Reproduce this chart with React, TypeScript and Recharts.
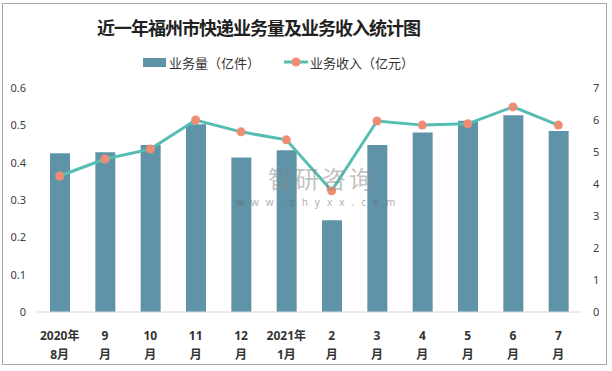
import { ComposedChart, Bar, Line, XAxis, YAxis, Legend } from "recharts"

const months = ["2020年\n8月", "9\n月", "10\n月", "11\n月", "12\n月", "2021年\n1月", "2\n月", "3\n月", "4\n月", "5\n月", "6\n月", "7\n月"]
const volume = [0.425, 0.428, 0.447, 0.503, 0.414, 0.433, 0.246, 0.447, 0.481, 0.512, 0.527, 0.485]
const revenue = [4.25, 4.78, 5.09, 6.0, 5.63, 5.38, 3.79, 5.97, 5.84, 5.88, 6.41, 5.84]
const leftTicks = [0, 0.1, 0.2, 0.3, 0.4, 0.5, 0.6]
const rightTicks = [0, 1, 2, 3, 4, 5, 6, 7]

const data = months.map((m, i) => ({ month: m, volume: volume[i], revenue: revenue[i] }))

const BAR = "#5f93a8"
const LINE = "#55bdb1"
const DOT = "#ef8d74"
const FONT = '"Noto Sans", "Noto Sans CJK SC", sans-serif'

function MonthTick(props: any) {
  const { x, y, payload } = props
  const lines = String(payload.value).split("\n")
  return (
    <g transform={`translate(${x},${y})`}>
      {lines.map((t, i) => (
        <text key={i} x={0} y={i * 19 + 20} textAnchor="middle" fontSize={12} fontWeight="bold" fill="#333" fontFamily={FONT}>
          {t}
        </text>
      ))}
    </g>
  )
}

function LegendBox() {
  return (
    <div style={{ display: "flex", alignItems: "center", paddingLeft: 143, height: 20, fontSize: 13, color: "#333", fontFamily: FONT }}>
      <span style={{ display: "inline-block", width: 23, height: 9, background: BAR, marginRight: 3 }} />
      <span>业务量（亿件）</span>
      <svg width={24} height={12} style={{ marginLeft: 24, marginRight: 2 }}>
        <line x1={0} y1={6} x2={24} y2={6} stroke={LINE} strokeWidth={3} />
        <circle cx={12} cy={6} r={4.5} fill={DOT} />
      </svg>
      <span>业务收入（亿元）</span>
    </div>
  )
}

export default function App() {
  return (
    <div style={{ position: "absolute", left: 0, top: 0, width: 612, height: 371, background: "#fff" }}>
      <div style={{ position: "absolute", left: 2, top: 3, width: 603, height: 360, border: "1.5px solid #a6a6a6" }} />
      <div style={{ position: "absolute", left: 97, top: 14, lineHeight: "26px", whiteSpace: "nowrap", fontSize: 18, letterSpacing: -1, fontWeight: 700, fontFamily: '"Noto Sans CJK SC", serif', color: "#222" }}>
        近一年福州市快递业务量及业务收入统计图
      </div>
      <ComposedChart width={612} height={371} data={data} margin={{ top: 68, right: 0, bottom: 10, left: 0 }} barSize={20}>
        <Legend verticalAlign="top" content={() => <LegendBox />} wrapperStyle={{ top: 52, left: 0, width: 612 }} />
        <XAxis dataKey="month" tickLine={false} axisLine={{ stroke: "#d9d9d9" }} height={49} interval={0} tick={<MonthTick />} />
        <YAxis yAxisId="left" domain={[0, 0.6]} ticks={leftTicks} width={37} axisLine={false} tickLine={false} tickMargin={5} tick={{ fontSize: 11, fill: "#404040", fontFamily: FONT }} />
        <YAxis yAxisId="right" orientation="right" domain={[0, 7]} ticks={rightTicks} width={31} axisLine={false} tickLine={false} tickMargin={6} tick={{ fontSize: 11, fill: "#404040", fontFamily: FONT }} />
        <Bar yAxisId="left" dataKey="volume" fill={BAR} isAnimationActive={false} />
        <Line yAxisId="right" dataKey="revenue" type="linear" stroke={LINE} strokeWidth={3} dot={{ r: 4.5, fill: DOT, stroke: "none" }} activeDot={false} isAnimationActive={false} />
      </ComposedChart>
      <div style={{ position: "absolute", left: 268, top: 166, lineHeight: "24px", fontSize: 24, color: "#888", opacity: 0.5, fontFamily: '"Noto Sans CJK SC", sans-serif', letterSpacing: 3, pointerEvents: "none" }}>
        智研咨询
      </div>
      <div style={{ position: "absolute", left: 236, top: 197, lineHeight: "10px", fontSize: 10, color: "#666", opacity: 0.5, fontFamily: FONT, letterSpacing: 7, pointerEvents: "none" }}>
        www.chyxx.com
      </div>
    </div>
  )
}
